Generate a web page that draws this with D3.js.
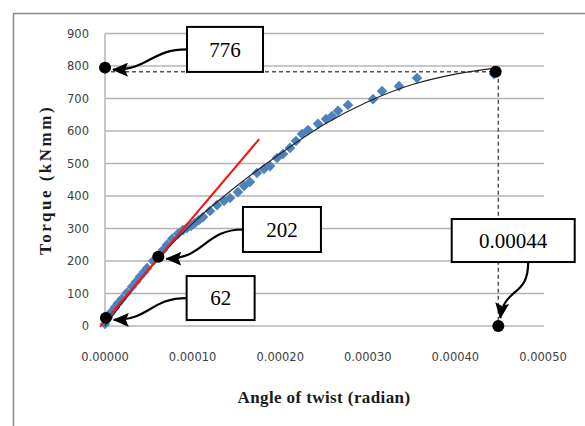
<!DOCTYPE html>
<html lang="en">
<head>
  <meta charset="UTF-8">
  <title>Torque vs angle of twist</title>
  <script src="https://cdn.jsdelivr.net/npm/d3@7"></script>
  <style>
    body {
      margin: 0;
      background: #fff;
    }
    .grid line {
      stroke: #b4b4b4;
      stroke-width: 1.5;
    }
    .tick-label {
      font-family: "DejaVu Sans", sans-serif;
      font-size: 11.5px;
      fill: #404040;
    }
    .axis-title {
      font-family: "Liberation Serif", "Times New Roman", serif;
      font-weight: bold;
      font-size: 17px;
      fill: #1a1a1a;
    }
    .callout rect {
      fill: #fff;
      stroke: #000;
      stroke-width: 2;
    }
    .callout text {
      font-family: "Liberation Serif", "Times New Roman", serif;
      font-size: 21px;
      fill: #000;
    }
  </style>
</head>
<body>
  <div id="chart"></div>
  <script>
    // measured points (angle of twist in radian, torque in kNmm)
    const angle = [
      0, 0.0000034, 0.0000068, 0.0000114, 0.0000148, 0.0000194, 0.0000251, 0.0000308,
      0.0000354, 0.0000400, 0.0000445, 0.0000480, 0.0000548, 0.0000605, 0.0000662, 0.0000708,
      0.0000765, 0.0000833, 0.0000890, 0.0000936, 0.0000982, 0.0001027, 0.0001073, 0.0001119,
      0.0001199, 0.0001279, 0.0001359, 0.0001427, 0.0001518, 0.0001587, 0.0001655, 0.0001735,
      0.0001815, 0.0001884, 0.0001964, 0.0002032, 0.0002112, 0.0002180, 0.0002249, 0.0002317,
      0.0002432, 0.0002523, 0.0002591, 0.0002660, 0.0002774, 0.0003060, 0.0003162, 0.0003356,
      0.0003562, 0.0004441
    ];
    const torque = [
      6, 25, 42, 58, 70, 84, 102, 121,
      136, 152, 166, 178, 200, 216, 234, 250,
      268, 284, 295, 302, 308, 317, 326, 335,
      354, 372, 385, 394, 412, 431, 443, 471,
      483, 492, 517, 529, 548, 569, 591, 603,
      622, 637, 646, 662, 680, 698, 723, 738,
      763, 775
    ];

    // black trend line
    const trendAngle = [0, 0.00005, 0.0001, 0.00015, 0.0002, 0.00025, 0.0003, 0.00035, 0.0004, 0.00045];
    const trendTorque = [0, 175, 316, 430, 530, 620, 690, 742, 775, 795];

    // red initial-stiffness line (two end points)
    const redAngle = [-0.0000057, 0.000176];
    const redTorque = [-3, 575];

    const xTicks = [0, 0.0001, 0.0002, 0.0003, 0.0004, 0.0005];
    const yTicks = [0, 100, 200, 300, 400, 500, 600, 700, 800, 900];

    // marked points and their labels
    const markLabels = ['776', '202', '62', '0.00044'];
    const markAngle = [0, 0.0000609, 0.000001, 0.000449];
    const markTorque = [795, 213, 25, 0];
    const boxAngle = [0.000137, 0.000202, 0.000132, 0.000466];
    const boxTorque = [851, 297, 86, 263];

    // peak point with its guide lines
    const peakAngle = 0.000446;
    const peakTorque = 782;

    const width = 585, height = 426;

    const svg = d3.select('#chart').append('svg')
      .attr('width', width)
      .attr('height', height);

    const defs = svg.append('defs');
    defs.append('marker')
      .attr('id', 'head')
      .attr('viewBox', '0 0 16 14')
      .attr('markerUnits', 'userSpaceOnUse')
      .attr('markerWidth', 16)
      .attr('markerHeight', 14)
      .attr('refX', 15)
      .attr('refY', 7)
      .attr('orient', 'auto')
      .append('path')
      .attr('d', 'M0,0 L16,7 L0,14 L3,7 Z')
      .attr('fill', '#000');

    // outer frame
    svg.append('rect')
      .attr('x', 13.5).attr('y', 13.5)
      .attr('width', 600).attr('height', 430)
      .attr('fill', 'none')
      .attr('stroke', '#8a8a8a')
      .attr('stroke-width', 1.5);

    const x = d3.scaleLinear().domain([0, 0.0005]).range([105, 543]);
    const y = d3.scaleLinear().domain([0, 900]).range([326, 33.5]);

    // horizontal gridlines
    svg.append('g').attr('class', 'grid')
      .selectAll('line')
      .data(yTicks)
      .join('line')
      .attr('x1', x(0)).attr('x2', x(0.0005) + 1)
      .attr('y1', d => y(d)).attr('y2', d => y(d));

    // value axis line
    svg.append('line')
      .attr('x1', x(0)).attr('x2', x(0))
      .attr('y1', y(900)).attr('y2', y(0))
      .attr('stroke', '#b4b4b4')
      .attr('stroke-width', 1.5);

    svg.append('g')
      .selectAll('text')
      .data(yTicks)
      .join('text')
      .attr('class', 'tick-label')
      .attr('x', 89)
      .attr('y', d => y(d))
      .attr('dy', '0.35em')
      .attr('text-anchor', 'end')
      .text(d3.format('d'));

    svg.append('g')
      .selectAll('text')
      .data(xTicks)
      .join('text')
      .attr('class', 'tick-label')
      .attr('x', d => x(d))
      .attr('y', 361)
      .attr('text-anchor', 'middle')
      .text(d3.format('.5f'));

    svg.append('text')
      .attr('class', 'axis-title')
      .attr('x', 324).attr('y', 403)
      .attr('text-anchor', 'middle')
      .style('letter-spacing', '0.4px')
      .text('Angle of twist (radian)');

    svg.append('text')
      .attr('class', 'axis-title')
      .attr('transform', 'translate(51,180) rotate(-90)')
      .attr('text-anchor', 'middle')
      .style('letter-spacing', '2.5px')
      .text('Torque (kNmm)');

    // guide lines to the peak
    const dash = svg.append('g')
      .attr('stroke', '#555')
      .attr('stroke-width', 1.5)
      .attr('stroke-dasharray', '4,3');
    dash.append('line')
      .attr('x1', x(0) + 6).attr('x2', x(peakAngle))
      .attr('y1', y(peakTorque)).attr('y2', y(peakTorque));
    dash.append('line')
      .attr('x1', x(0.000449)).attr('x2', x(0.000449))
      .attr('y1', y(peakTorque)).attr('y2', y(0));

    // data points
    const points = d3.zip(angle, torque);
    svg.append('g')
      .selectAll('path')
      .data(points)
      .join('path')
      .attr('d', d3.symbol(d3.symbolSquare, 56))
      .attr('transform', d => `translate(${x(d[0])},${y(d[1])}) rotate(45)`)
      .attr('fill', '#4f81bd');

    const line = d3.line().x(d => x(d[0])).y(d => y(d[1]));

    svg.append('path')
      .datum(d3.zip(trendAngle, trendTorque))
      .attr('d', line.curve(d3.curveMonotoneX))
      .attr('fill', 'none')
      .attr('stroke', '#222')
      .attr('stroke-width', 1.1);

    svg.append('path')
      .datum(d3.zip(redAngle, redTorque))
      .attr('d', d3.line().x(d => x(d[0])).y(d => y(d[1])))
      .attr('fill', 'none')
      .attr('stroke', '#ff1010')
      .attr('stroke-width', 2);

    // black marker dots
    const dots = d3.zip(markAngle, markTorque).concat([[peakAngle, peakTorque]]);
    svg.append('g')
      .selectAll('circle')
      .data(dots)
      .join('circle')
      .attr('cx', d => x(d[0]))
      .attr('cy', d => y(d[1]))
      .attr('r', 6)
      .attr('fill', '#000');

    // callout boxes with curved arrows
    const boxW = [76, 78, 68, 123];
    const boxH = [45, 45, 44, 43];
    const callouts = markLabels.map((label, i) => ({
      label,
      dx: x(markAngle[i]), dy: y(markTorque[i]),
      bx: x(boxAngle[i]), by: y(boxTorque[i]),
      w: boxW[i], h: boxH[i],
      side: i === 3 ? 'bottom' : 'left'
    }));

    const g = svg.append('g').attr('class', 'callout');

    g.selectAll('path')
      .data(callouts)
      .join('path')
      .attr('d', c => {
        if (c.side === 'left') {
          const x0 = c.bx - c.w / 2, y0 = c.by;
          const x1 = c.dx + 8, y1 = c.dy + 2;
          const xm = (x0 + x1) / 2;
          return `M${x0},${y0} C${xm},${y0} ${xm},${y1} ${x1},${y1}`;
        }
        const x0 = c.bx + 15, y0 = c.by + c.h / 2;
        const x1 = c.dx + 2, y1 = c.dy - 8;
        const ym = (y0 + y1) / 2;
        return `M${x0},${y0} C${x0},${ym + 8} ${x1 + 4},${ym - 4} ${x1},${y1}`;
      })
      .attr('fill', 'none')
      .attr('stroke', '#000')
      .attr('stroke-width', 2.2)
      .attr('marker-end', 'url(#head)');

    g.selectAll('rect')
      .data(callouts)
      .join('rect')
      .attr('x', c => c.bx - c.w / 2)
      .attr('y', c => c.by - c.h / 2)
      .attr('width', c => c.w)
      .attr('height', c => c.h);

    g.selectAll('text')
      .data(callouts)
      .join('text')
      .attr('x', c => c.bx)
      .attr('y', c => c.by)
      .attr('dy', '0.35em')
      .attr('text-anchor', 'middle')
      .text(c => c.label);
  </script>
</body>
</html>
